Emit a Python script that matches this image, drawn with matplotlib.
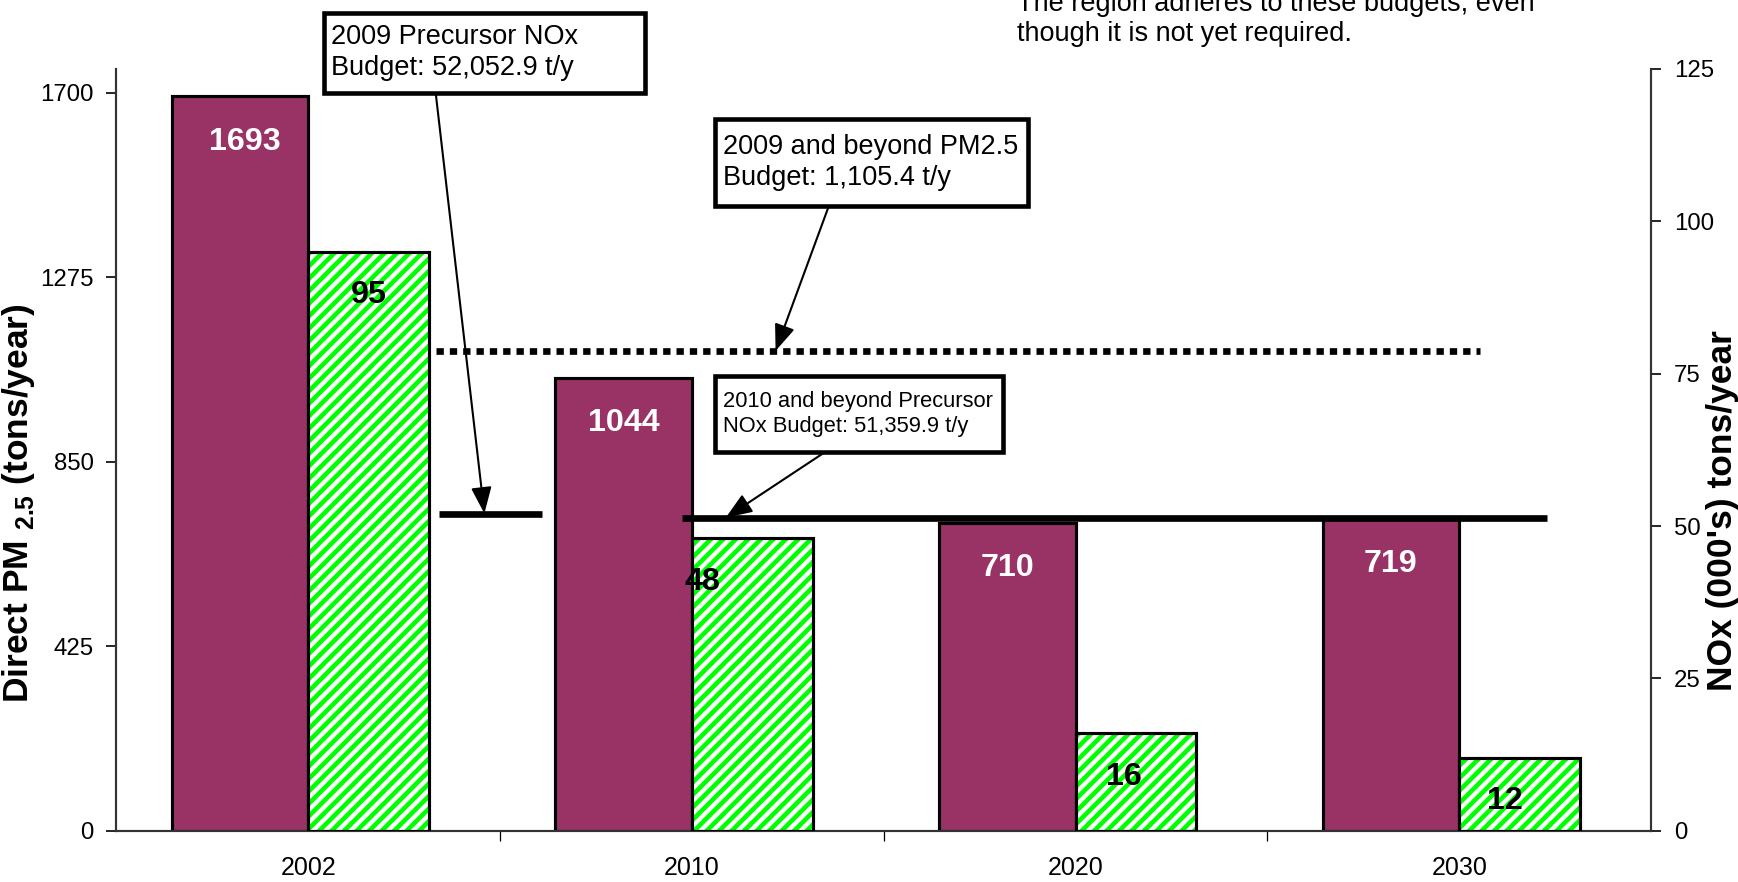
import numpy as np
import matplotlib
matplotlib.use("Agg")
import matplotlib.pyplot as plt

plt.rcParams['font.family'] = ['Liberation Sans', 'DejaVu Sans']
plt.rcParams['mathtext.fontset'] = 'custom'
plt.rcParams['mathtext.rm'] = 'Liberation Sans'
plt.rcParams['mathtext.bf'] = 'Liberation Sans:bold'
plt.rcParams['hatch.linewidth'] = 2.2

# data
years = ["2002", "2010", "2020", "2030"]
pm25 = [1693, 1044, 710, 719]          # direct PM2.5, tons/year
nox = [95, 48, 16, 12]                 # NOx, thousands of tons/year
pm_budget = 1105.4                     # 2009 and beyond PM2.5 budget
nox_budget_2009 = 52.0529              # 2009 precursor NOx budget (000's)
nox_budget_2010 = 51.3599              # 2010 and beyond NOx budget (000's)
left_ticks = [0, 425, 850, 1275, 1700]
right_ticks = [0, 25, 50, 75, 100, 125]

# label nudges (points)
pm_dx = [2.5, 0, 0, 0]
nox_dx = [0, -24, -6, -7]

purple = "#993366"
lime = "#00ff00"

fig = plt.figure(figsize=(1738 / 150, 882 / 150), dpi=150)
ax = fig.add_axes([0.067, 0.058, 0.883, 0.864])
ax2 = ax.twinx()

x = np.arange(len(years))
pw = 0.356
gw = 0.315

ax.bar(x - pw / 2, pm25, width=pw, color=purple, edgecolor="black", linewidth=1.5, zorder=2)
ax2.bar(x + gw / 2, nox, width=gw, facecolor="white", edgecolor=lime, hatch="////", linewidth=0, zorder=2)
ax2.bar(x + gw / 2, nox, width=gw, fill=False, edgecolor="black", linewidth=1.5, zorder=3)

ax.set_xlim(-0.5, len(years) - 0.5)
ax.set_ylim(0, 1755)
ax2.set_ylim(0, 125)

# budget lines
ax.hlines(pm_budget, 0.332, 3.055, colors="black", linewidth=3.2,
          linestyles=(0, (1.1, 0.9)), zorder=4)
ax2.hlines(nox_budget_2009, 0.34, 0.61, colors="black", linewidth=3.2, zorder=4)
ax2.hlines(nox_budget_2010, 0.974, 3.228, colors="black", linewidth=3.2, zorder=4)

# data labels
for i, v in enumerate(pm25):
    ax.annotate(str(v), (x[i] - pw / 2, v), xytext=(pm_dx[i], -22), textcoords="offset points",
                ha="center", va="center", color="white", fontsize=15.5, fontweight="bold", zorder=5)
for i, v in enumerate(nox):
    ax2.annotate(str(v), (x[i] + gw / 2, v), xytext=(nox_dx[i], -21), textcoords="offset points",
                 ha="center", va="center", color="black", fontsize=15.5, fontweight="bold", zorder=5)

# axes styling
ax.set_yticks(left_ticks)
ax.set_yticklabels([str(t) for t in left_ticks])
ax2.set_yticks(right_ticks)
ax2.set_yticklabels([str(t) for t in right_ticks])
ax.set_xticks(x)
ax.set_xticklabels(years)
ax.set_xticks([0.5, 1.5, 2.5], minor=True)
ax.tick_params(axis="x", which="major", length=0, labelsize=12, pad=12)
ax.tick_params(axis="x", which="minor", length=5, direction="out")
ax.tick_params(axis="y", length=5, direction="out", labelsize=11.5, pad=6)
ax2.tick_params(axis="y", length=5, direction="out", labelsize=11.5, pad=6)
for a in (ax, ax2):
    a.spines["top"].set_visible(False)
    for s in ("left", "right", "bottom"):
        a.spines[s].set_linewidth(1.0)
        a.spines[s].set_color("#333333")

ax.set_ylabel(r"Direct PM $_{\mathbf{2.5}}$ (tons/year)", fontsize=17, fontweight="bold")
ax.yaxis.set_label_coords(-0.052, 0.43)
ax2.set_ylabel("NOx (000's) tons/year", fontsize=17, fontweight="bold", rotation=90)
ax2.yaxis.set_label_coords(1.036, 0.42)

# callout boxes
boxes = [
    ("2009 Precursor NOx\nBudget: 52,052.9 t/y", (0.04, 1700), 0.838, 183.6, 13),
    ("2009 and beyond PM2.5\nBudget: 1,105.4 t/y", (1.06, 1439.5), 0.817, 199.1, 13),
    ("2010 and beyond Precursor\nNOx Budget: 51,359.9 t/y", (1.06, 873), 0.75, 173.5, 10.5),
]
for label, (bx, by), bw, bh, fs in boxes:
    ax2.add_patch(plt.Rectangle((bx, by), bw, bh, transform=ax.transData, facecolor="white",
                                edgecolor="black", linewidth=2.2, clip_on=False, zorder=6))
    ax2.text(bx + 0.02, by + bh / 2, label, transform=ax.transData, ha="left", va="center",
             fontsize=fs, linespacing=1.25, zorder=7, clip_on=False)

arrow = dict(arrowstyle="-|>,head_length=0.9,head_width=0.35", color="black", lw=1.0,
             shrinkA=0, shrinkB=0, mutation_scale=12)
ax.annotate("", xy=(0.459, nox_budget_2009 * 1755 / 125), xytext=(0.332, 1700),
            arrowprops=arrow, zorder=8, annotation_clip=False)
ax.annotate("", xy=(1.218, pm_budget), xytext=(1.357, 1439.5),
            arrowprops=arrow, zorder=8, annotation_clip=False)
ax.annotate("", xy=(1.088, nox_budget_2010 * 1755 / 125), xytext=(1.348, 873),
            arrowprops=arrow, zorder=8, annotation_clip=False)
ax.set_zorder(1)
ax2.set_zorder(2)

fig.text(0.585, 0.947, "The region adheres to these budgets, even\nthough it is not yet required.",
         ha="left", va="bottom", fontsize=13, linespacing=1.2)

fig.savefig("out.png", dpi=150)
